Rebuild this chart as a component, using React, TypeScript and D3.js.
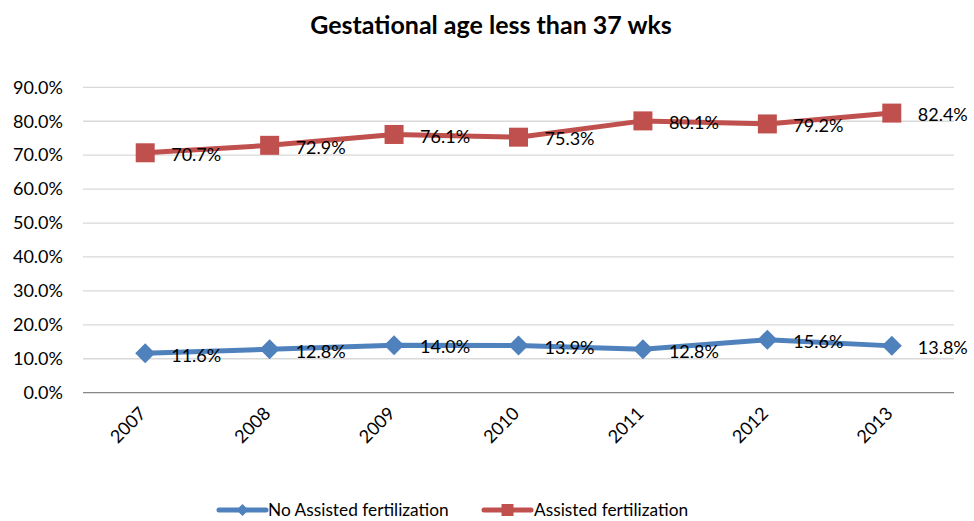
import React from "react";
import * as d3 from "d3";

const years = ["2007", "2008", "2009", "2010", "2011", "2012", "2013"];
const noAssisted = [11.6, 12.8, 14.0, 13.9, 12.8, 15.6, 13.8];
const assisted = [70.7, 72.9, 76.1, 75.3, 80.1, 79.2, 82.4];
const yTicks = [0, 10, 20, 30, 40, 50, 60, 70, 80, 90];
const title = "Gestational age less than 37 wks";
const seriesNames = ["No Assisted fertilization", "Assisted fertilization"];

const W = 974;
const H = 521;
const FONT = "Lato, 'Open Sans', sans-serif";
const BLUE = "#4F81BD";
const RED = "#C0504D";

export default function App() {
  const left = 83, right = 954, top = 87.3, bottom = 392.7;
  const x = d3.scaleBand<string>().domain(years).range([left, right]);
  const y = d3.scaleLinear().domain([0, 90]).range([bottom, top]);
  const cx = (d: string) => (x(d) as number) + x.bandwidth() / 2;
  const line = d3.line<number>().x((_, i) => cx(years[i])).y((v) => y(v));

  const diamond = (px: number, py: number, r: number) =>
    `M${px},${py - r}L${px + r},${py}L${px},${py + r}L${px - r},${py}Z`;

  return (
    <svg width={W} height={H} style={{ position: "absolute", left: 0, top: 0, background: "#fff" }} fontFamily={FONT}>
      <text x={491} y={34} textAnchor="middle" fontSize={25} fontWeight="bold" fill="#000">{title}</text>
      {yTicks.map((t) => (
        <g key={t}>
          {t > 0 && <line x1={left} x2={right} y1={y(t)} y2={y(t)} stroke="#D9D9D9" strokeWidth={1.3} />}
          <text x={63} y={y(t)} dy="0.35em" textAnchor="end" fontSize={18} fill="#000">{t.toFixed(1)}%</text>
        </g>
      ))}
      <line x1={left} x2={right} y1={bottom} y2={bottom} stroke="#868686" strokeWidth={1.3} />
      {years.map((yr) => (
        <text key={yr} transform={`translate(${cx(yr) + 2},${bottom + 22}) rotate(-45)`} textAnchor="end" fontSize={18} fill="#000">{yr}</text>
      ))}
      <path d={line(noAssisted) || ""} fill="none" stroke={BLUE} strokeWidth={5} strokeLinejoin="round" />
      <path d={line(assisted) || ""} fill="none" stroke={RED} strokeWidth={5} strokeLinejoin="round" />
      {noAssisted.map((v, i) => (
        <path key={"b" + i} d={diamond(cx(years[i]), y(v), 10)} fill={BLUE} />
      ))}
      {assisted.map((v, i) => (
        <rect key={"r" + i} x={cx(years[i]) - 9.5} y={y(v) - 9.5} width={19} height={19} fill={RED} />
      ))}
      {noAssisted.map((v, i) => (
        <text key={"bl" + i} x={cx(years[i]) + 26} y={y(v) + 2} dy="0.35em" fontSize={18} fill="#000">{v.toFixed(1)}%</text>
      ))}
      {assisted.map((v, i) => (
        <text key={"rl" + i} x={cx(years[i]) + 26} y={y(v) + 2} dy="0.35em" fontSize={18} fill="#000">{v.toFixed(1)}%</text>
      ))}
      <g>
        <line x1={219} x2={266} y1={510} y2={510} stroke={BLUE} strokeWidth={5} strokeLinecap="round" />
        <path d={diamond(242.5, 510, 6)} fill={BLUE} />
        <text x={268} y={510} dy="0.35em" fontSize={17.3} fill="#000">{seriesNames[0]}</text>
        <line x1={484} x2={531} y1={510} y2={510} stroke={RED} strokeWidth={5} strokeLinecap="round" />
        <rect x={501.5} y={504} width={12} height={12} fill={RED} />
        <text x={534} y={510} dy="0.35em" fontSize={17.3} fill="#000">{seriesNames[1]}</text>
      </g>
    </svg>
  );
}
